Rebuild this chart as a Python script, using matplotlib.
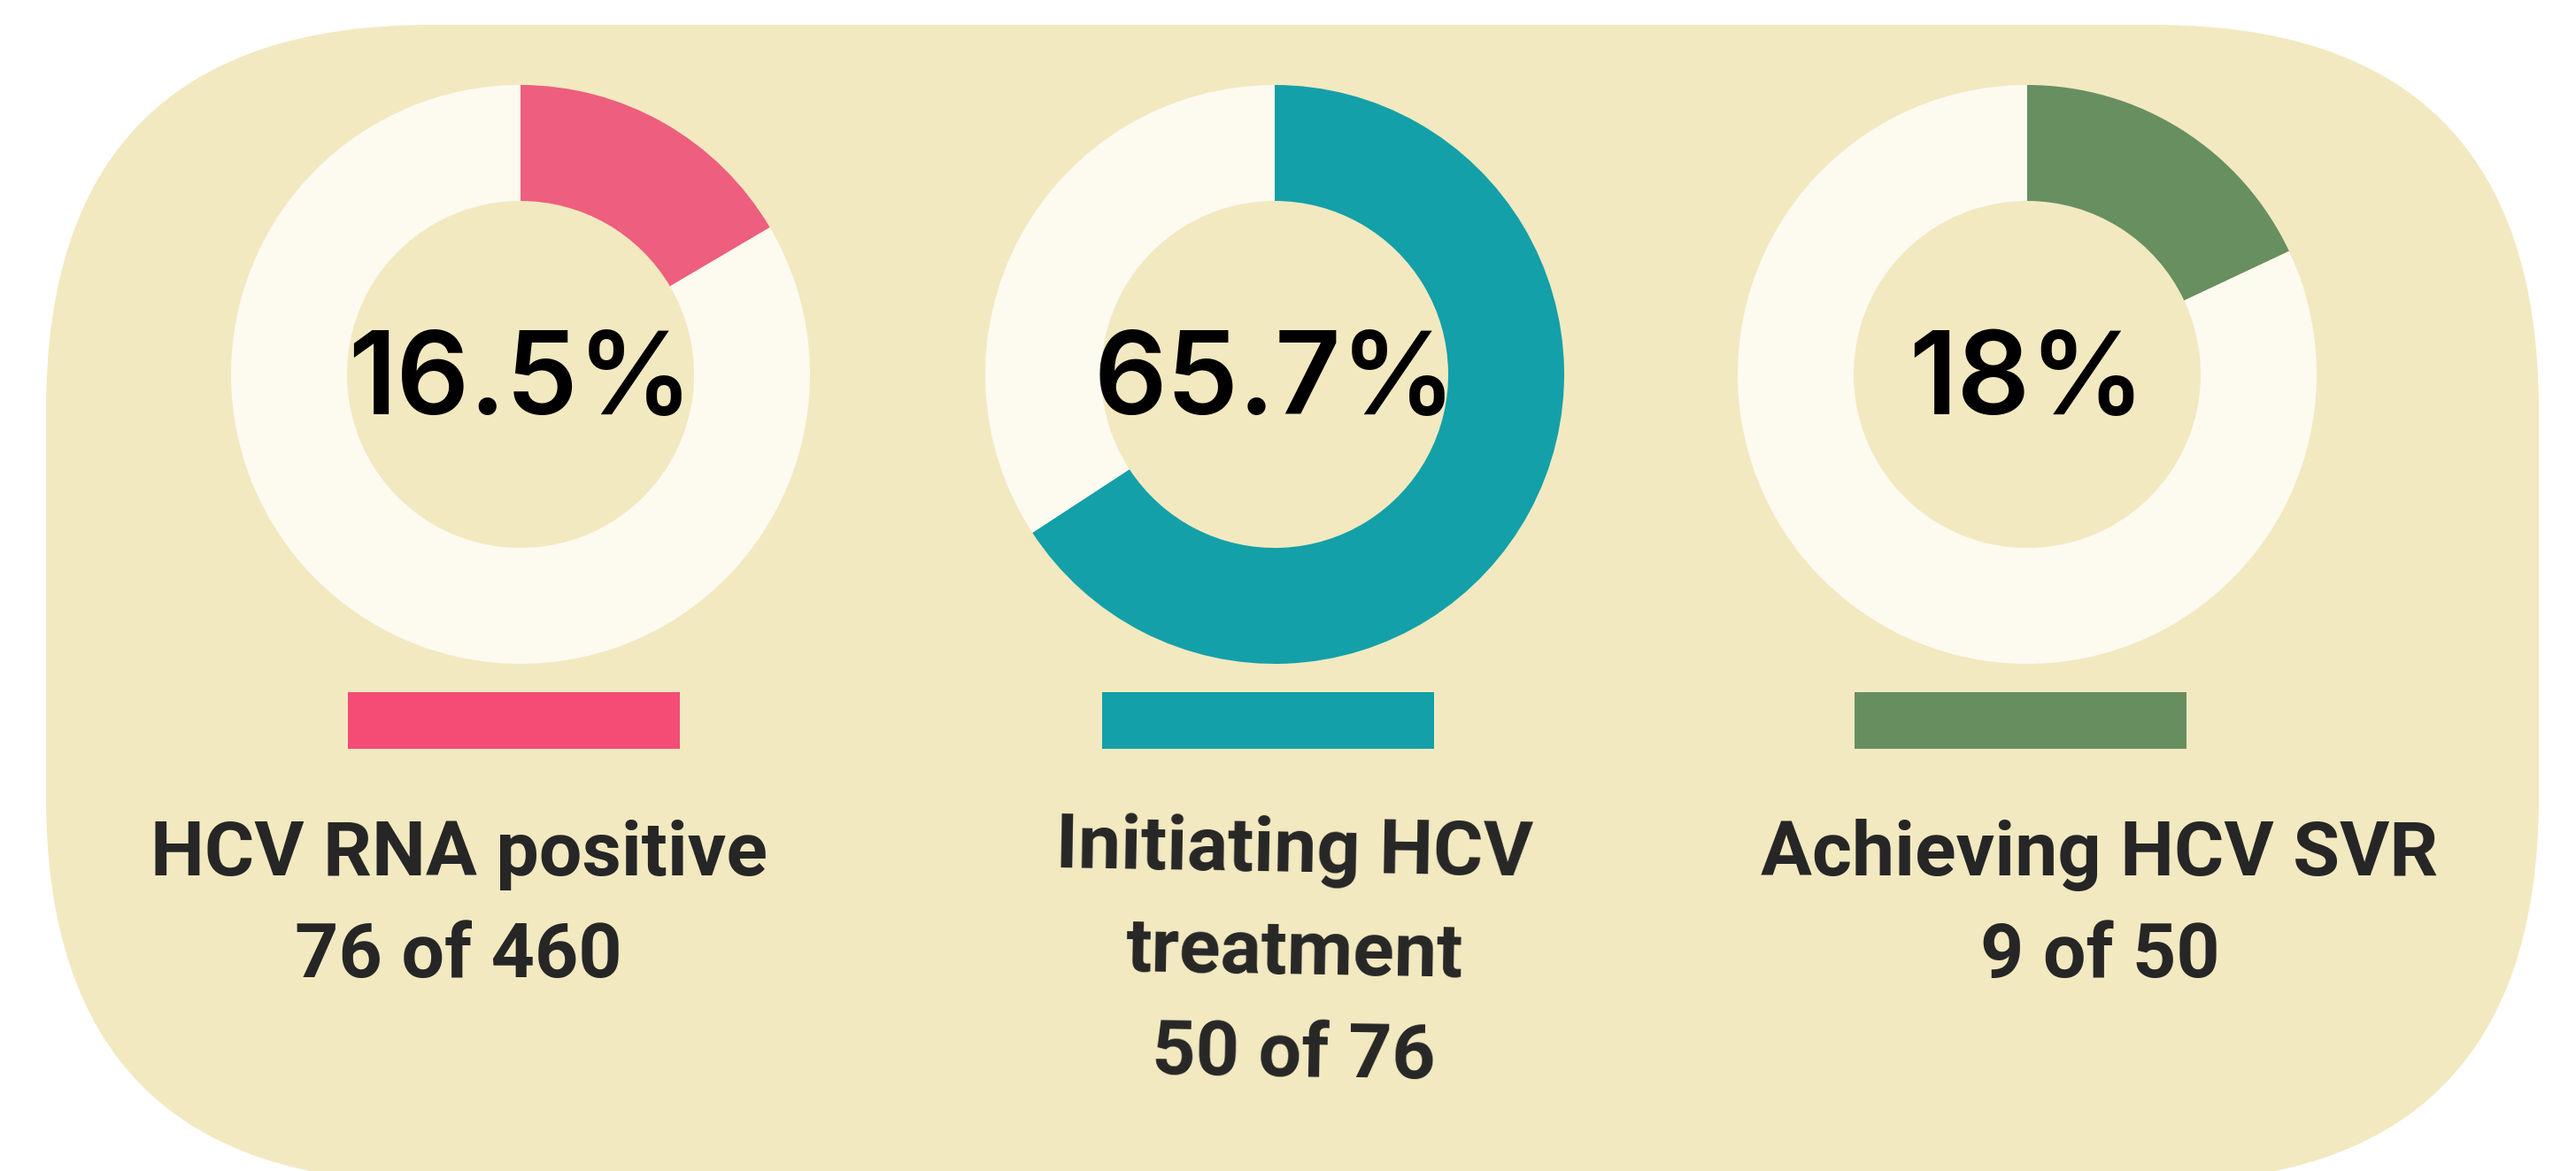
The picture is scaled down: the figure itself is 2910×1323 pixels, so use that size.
import matplotlib.pyplot as plt
from matplotlib.patches import FancyBboxPatch, Rectangle

# data
labels = ["HCV RNA positive\n76 of 460", "Initiating HCV\ntreatment\n50 of 76", "Achieving HCV SVR\n9 of 50"]
counts = [76, 50, 9]
totals = [460, 76, 50]
pct_labels = ["16.5%", "65.7%", "18%"]
wedge_colors = ["#EE5E7E", "#14A0A8", "#688F60"]
bar_colors = ["#F44C75", "#14A0A8", "#678E5F"]

W, H = 2910, 1323
bg = "#F2E9C1"
ring = "#FDFAF0"

fig = plt.figure(figsize=(W / 100, H / 100), dpi=100)
ax = fig.add_axes([0, 0, 1, 1])

# rounded panel, bottom runs slightly off the canvas
ax.add_patch(FancyBboxPatch((52, -13), 2816, 1308, boxstyle="round,pad=0,rounding_size=435",
                            fc=bg, ec="none", zorder=0))

cx = [588, 1440, 2290]
cy = H - 423
label_x = [518, 1462, 2372]
label_rot = [0, -1, 0]

for i in range(3):
    ax.pie([counts[i], totals[i] - counts[i]], colors=[wedge_colors[i], ring],
           center=(cx[i], cy), radius=327, startangle=90, counterclock=False,
           wedgeprops=dict(width=131, linewidth=0), frame=True)
    ax.text(cx[i], cy - 45, pct_labels[i], ha="center", va="baseline", fontsize=93,
            family="Inter", weight="semibold", color="black")
    ax.add_patch(Rectangle((cx[i] - 8 - 187, H - 846), 375, 64, fc=bar_colors[i], ec="none"))
    for j, line in enumerate(labels[i].split("\n")):
        ax.text(label_x[i], H - 989 - j * 115, line, ha="center", va="baseline", fontsize=62,
                family="Roboto", weight="bold", color="#262626", rotation=label_rot[i])

ax.set_xlim(0, W)
ax.set_ylim(0, H)
ax.set_aspect("equal")
ax.axis("off")
fig.savefig("out.png", dpi=100, facecolor="white")
